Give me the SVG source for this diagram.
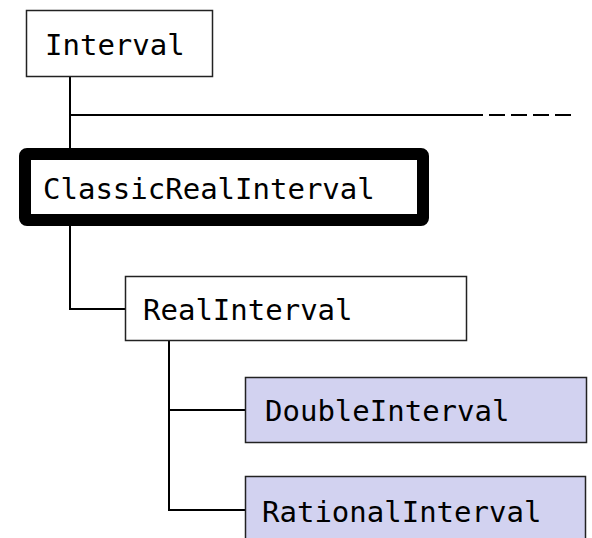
<svg xmlns="http://www.w3.org/2000/svg" width="592" height="538" viewBox="0 0 592 538">
<style>
.box{fill:#fff;stroke:#222;stroke-width:1.5}
.lib{fill:#d2d2f0;stroke:#222;stroke-width:1.5}
.cur{fill:#fff;stroke:#000;stroke-width:12}
.t{font-family:"DejaVu Sans Mono","Liberation Mono",monospace;font-size:29px;fill:#000}
.c{fill:none;stroke:#000;stroke-width:2}
</style>
<rect width="592" height="538" fill="#fff"/>
<g id="connectors">
<path class="c" d="M70 77V148"/>
<path class="c" d="M70 115H467"/>
<path class="c" d="M467 115H572" stroke-dasharray="16 6"/>
<path class="c" d="M70 226V309H125"/>
<path class="c" d="M169 341V510H245"/>
<path class="c" d="M169 410H245"/>
</g>
<g id="Interval">
<rect class="box" x="26.5" y="10.5" width="186" height="66"/>
<text class="t" x="45" y="55">Interval</text>
</g>
<g id="ClassicRealInterval">
<rect class="cur" x="25" y="154" width="398" height="66" rx="2"/>
<text class="t" x="43" y="199">ClassicRealInterval</text>
</g>
<g id="RealInterval">
<rect class="box" x="125.5" y="276.5" width="341" height="64"/>
<text class="t" x="143" y="320">RealInterval</text>
</g>
<g id="DoubleInterval">
<rect class="lib" x="245.5" y="377.5" width="341" height="65"/>
<text class="t" x="265" y="421">DoubleInterval</text>
</g>
<g id="RationalInterval">
<rect class="lib" x="245.5" y="476.5" width="340" height="70"/>
<text class="t" x="262" y="522">RationalInterval</text>
</g>
</svg>
